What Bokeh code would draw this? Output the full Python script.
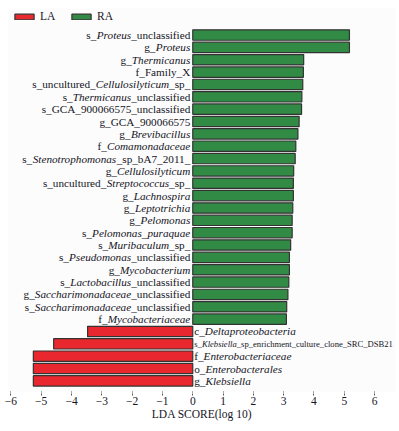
from bokeh.plotting import figure
from bokeh.models import ColumnDataSource, Range1d, FixedTicker
from bokeh.core.properties import value
from bokeh.embed import file_html
from bokeh.resources import INLINE

# ---------------- data ----------------
ra_taxa = [
    "s_Proteus_unclassified", "g_Proteus", "g_Thermicanus", "f_Family_X",
    "s_uncultured_Cellulosilyticum_sp_", "s_Thermicanus_unclassified",
    "s_GCA_900066575_unclassified", "g_GCA_900066575", "g_Brevibacillus",
    "f_Comamonadaceae", "s_Stenotrophomonas_sp_bA7_2011_", "g_Cellulosilyticum",
    "s_uncultured_Streptococcus_sp_", "g_Lachnospira", "g_Leptotrichia",
    "g_Pelomonas", "s_Pelomonas_puraquae", "s_Muribaculum_sp_",
    "s_Pseudomonas_unclassified", "g_Mycobacterium", "s_Lactobacillus_unclassified",
    "g_Saccharimonadaceae_unclassified", "s_Saccharimonadaceae_unclassified",
    "f_Mycobacteriaceae",
]
ra_italic = [
    "Proteus", "Proteus", "Thermicanus", "", "Cellulosilyticum", "Thermicanus",
    "", "", "Brevibacillus", "Comamonadaceae", "Stenotrophomonas", "Cellulosilyticum",
    "Streptococcus", "Lachnospira", "Leptotrichia", "Pelomonas", "Pelomonas_puraquae",
    "Muribaculum", "Pseudomonas", "Mycobacterium", "Lactobacillus",
    "Saccharimonadaceae", "Saccharimonadaceae", "Mycobacteriaceae",
]
ra_lda = [5.17, 5.17, 3.66, 3.65, 3.63, 3.60, 3.59, 3.51, 3.47, 3.40, 3.38, 3.33,
          3.32, 3.32, 3.30, 3.28, 3.28, 3.23, 3.19, 3.19, 3.17, 3.14, 3.10, 3.09]

la_taxa = [
    "c_Deltaproteobacteria", "s_Klebsiella_sp_enrichment_culture_clone_SRC_DSB21",
    "f_Enterobacteriaceae", "o_Enterobacterales", "g_Klebsiella",
]
la_italic = ["Deltaproteobacteria", "Klebsiella", "Enterobacteriaceae",
             "Enterobacterales", "Klebsiella"]
la_lda = [-3.47, -4.59, -5.26, -5.26, -5.26]

ticks = [-6, -5, -4, -3, -2, -1, 0, 1, 2, 3, 4, 5, 6]
tick_labels = ["\u22126", "\u22125", "\u22124", "\u22123", "\u22122", "\u22121",
               "0", "1", "2", "3", "4", "5", "6"]

# ---------------- text metrics (Times / Liberation Serif) ----------------
ROMAN = dict(zip("abcdefghijklmnopqrstuvwxyz",
                 [444, 500, 444, 500, 444, 333, 500, 500, 278, 278, 500, 278, 778,
                  500, 500, 500, 500, 333, 389, 278, 500, 500, 722, 500, 500, 444]))
ROMAN.update(zip("ABCDEFGHIJKLMNOPQRSTUVWXYZ",
                 [722, 667, 667, 722, 611, 556, 722, 722, 333, 389, 722, 611, 889,
                  722, 722, 556, 722, 667, 556, 611, 722, 722, 944, 722, 722, 611]))
ITAL = dict(zip("abcdefghijklmnopqrstuvwxyz",
                [500, 500, 444, 500, 444, 278, 500, 500, 278, 278, 444, 278, 722,
                 500, 500, 500, 500, 389, 389, 278, 500, 444, 667, 444, 444, 389]))
ITAL.update(zip("ABCDEFGHIJKLMNOPQRSTUVWXYZ",
                [611, 611, 667, 722, 611, 611, 722, 722, 333, 444, 667, 556, 833,
                 667, 722, 611, 722, 611, 500, 556, 722, 611, 833, 611, 556, 556]))


def tw(s, table, fs):
    return sum(table.get(c, 500) for c in s) * fs / 1000.0


def split(name, it):
    if not it:
        return name, "", ""
    k = name.index(it)
    return name[:k], it, name[k + len(it):]


FS = 11.2
n_total = len(ra_taxa) + len(la_taxa)
ra_y = [n_total - 1 - i for i in range(len(ra_taxa))]
la_y = [n_total - 1 - len(ra_taxa) - i for i in range(len(la_taxa))]

# right-aligned labels for RA
ra = dict(y=ra_y, lda=ra_lda, x0=[0] * len(ra_y), pre=[], ita=[], suf=[],
          po=[], io=[], so=[], fs=[])
for name, it in zip(ra_taxa, ra_italic):
    a, b, c = split(name, it)
    base = -2.5
    ra["pre"].append(a); ra["ita"].append(b); ra["suf"].append(c)
    ra["so"].append(base)
    ra["io"].append(base - tw(c, ROMAN, FS))
    ra["po"].append(base - tw(c, ROMAN, FS) - tw(b, ITAL, FS))
    ra["fs"].append(f"{FS}px")

la = dict(y=la_y, lda=la_lda, x0=[0] * len(la_y), pre=[], ita=[], suf=[],
          po=[], io=[], so=[], fs=[])
for name, it in zip(la_taxa, la_italic):
    a, b, c = split(name, it)
    fs = FS if len(name) < 30 else 8.6
    base = 1.5
    la["pre"].append(a); la["ita"].append(b); la["suf"].append(c)
    la["po"].append(base)
    la["io"].append(base + tw(a, ROMAN, fs))
    la["so"].append(base + tw(a, ROMAN, fs) + tw(b, ITAL, fs))
    la["fs"].append(f"{fs}px")

src_ra = ColumnDataSource(ra)
src_la = ColumnDataSource(la)

# ---------------- figure ----------------
p = figure(width=399, height=431, output_backend="svg", toolbar_location=None,
           x_range=Range1d(-6.08, 6.69), y_range=Range1d(-0.86, 30.15),
           min_border_left=8, min_border_right=4, min_border_top=8,
           min_border_bottom=40, y_axis_location=None)
p.outline_line_color = None
p.grid.visible = False
p.background_fill_color = "#fcfcfc"
p.border_fill_color = "white"

RED = "#e8282e"
GREEN = "#318b45"
p.hbar(y="y", left=0, right="lda", height=0.84, source=src_la, fill_color=RED,
       line_color="#333333", line_width=1.2, legend_label="LA")
p.hbar(y="y", left=0, right="lda", height=0.84, source=src_ra, fill_color=GREEN,
       line_color="#333333", line_width=1.2, legend_label="RA")

FONT = value("Liberation Serif")
TXT = "#15151f"
for src, align in ((src_ra, "right"), (src_la, "left")):
    for col, off, style in (("pre", "po", "normal"), ("ita", "io", "italic"),
                            ("suf", "so", "normal")):
        p.text(x="x0", y="y", text=col, x_offset=off, source=src,
               text_font=FONT, text_font_size="fs", text_font_style=style,
               text_align=align, text_baseline="middle", text_color=TXT)

# axis
ax = p.xaxis[0]
ax.ticker = FixedTicker(ticks=ticks)
ax.major_label_overrides = {t: l for t, l in zip(ticks, tick_labels)}
ax.axis_line_color = None
ax.major_tick_in = 0
ax.major_tick_out = 4
ax.major_tick_line_color = "#555555"
ax.major_tick_line_dash = "2 1"
ax.minor_tick_line_color = None
ax.major_label_text_font = "Liberation Serif"
ax.major_label_text_font_size = "11.5px"
ax.major_label_text_color = TXT
ax.major_label_standoff = 1
ax.axis_label = "LDA SCORE(log 10)"
ax.axis_label_text_font = "Liberation Serif"
ax.axis_label_text_font_size = "11.5px"
ax.axis_label_text_font_style = "normal"
ax.axis_label_text_color = TXT
ax.axis_label_standoff = 0

# legend
lg = p.legend[0]
lg.location = (4, 369)
lg.orientation = "horizontal"
lg.glyph_width = 24
lg.glyph_height = 7
lg.label_height = 12
lg.label_width = 20
lg.label_standoff = 4
lg.spacing = 9
lg.padding = 0
lg.margin = 0
lg.border_line_color = None
lg.background_fill_alpha = 0
lg.label_text_font = "Liberation Serif"
lg.label_text_font_size = "11.5px"
lg.label_text_color = TXT

open("out.html", "w").write(file_html(p, INLINE))
